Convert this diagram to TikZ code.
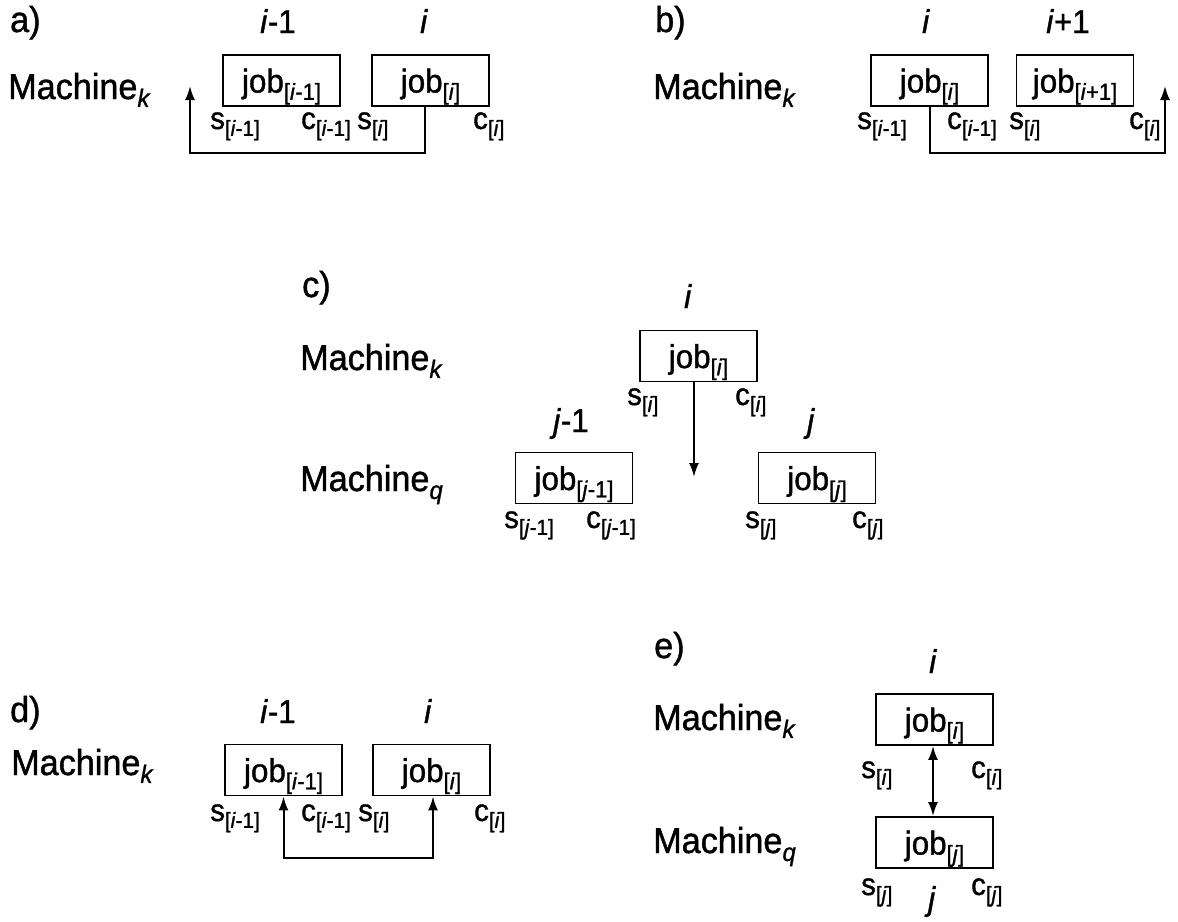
\documentclass[tikz,border=0pt]{standalone}
\usepackage{fontspec}
\setmainfont{Liberation Sans}[FakeStretch=0.95,FakeBold=1.2]
\usetikzlibrary{arrows.meta}
\newcommand{\sbs}[1]{\raisebox{-0.22em}{\scalebox{0.7}{#1}}}
\newcommand{\idi}{\textit{i}}
\newcommand{\idj}{\textit{j}}
\tikzset{
  txt/.style={font=\fontsize{36}{42}\selectfont, inner sep=0pt, anchor=base west},
  lbl/.style={font=\fontsize{31}{38}\selectfont, inner sep=0pt, anchor=base west},
  idx/.style={font=\fontsize{33}{40}\selectfont, inner sep=0pt, anchor=base},
  jobbox/.style={draw, line width=1.9pt, minimum width=117pt, minimum height=51pt,
    inner sep=0pt, text height=30pt, text depth=6pt, font=\fontsize{33}{40}\selectfont},
  arr/.style={line width=2pt, -{Latex[length=14pt,width=10pt]}},
  dbl/.style={line width=2pt, {Latex[length=14pt,width=10pt]}-{Latex[length=14pt,width=10pt]}},
}
\begin{document}
\begin{tikzpicture}[x=1pt,y=-1pt]
\useasboundingbox (0,0) rectangle (1178,921);

% ---------- a)
\node[txt] (alab) at (10,32) {a)};
\node[idx] (aim1) at (278,33) {\idi-1};
\node[idx] (ai) at (424,33) {\idi};
\node[txt] (amk) at (8,99) {Machine\sbs{\textit{k}}};
\node[jobbox] (a1) at (281.5,80.5) {job\sbs{[\idi-1]}};
\node[jobbox] (a2) at (430.5,80.5) {job\sbs{[\idi]}};
\node[lbl] (as1) at (210,129) {s\sbs{[\idi-1]}};
\node[lbl] (ac1) at (301,129) {c\sbs{[\idi-1]}};
\node[lbl] (as2) at (357,129) {s\sbs{[\idi]}};
\node[lbl] (ac2) at (473,129) {c\sbs{[\idi]}};
\coordinate (aturn) at (190,153);
\coordinate (aend) at (190,86);
\draw[arr] ([xshift=-5.5pt]a2.south) |- (aturn) -- (aend);

% ---------- b)
\node[txt] (blab) at (655,32) {b)};
\node[idx] (bi) at (926,33) {\idi};
\node[idx] (bip1) at (1068,33) {\idi+1};
\node[txt] (bmk) at (653,99) {Machine\sbs{\textit{k}}};
\node[jobbox] (b1) at (929.5,80.5) {job\sbs{[\idi]}};
\node[jobbox] (b2) at (1075,80.5) {job\sbs{[\idi+1]}};
\node[lbl] (bs1) at (857,129) {s\sbs{[\idi-1]}};
\node[lbl] (bc1) at (947,129) {c\sbs{[\idi-1]}};
\node[lbl] (bs2) at (1009,129) {s\sbs{[\idi]}};
\node[lbl] (bc2) at (1129,129) {c\sbs{[\idi]}};
\coordinate (bturn) at (1165,153);
\coordinate (bend) at (1165,86);
\draw[arr] (b1.south) |- (bturn) -- (bend);

% ---------- c)
\node[txt] (clab) at (302,297) {c)};
\node[idx] (ci) at (688,308) {\idi};
\node[txt] (cmk) at (300,370) {Machine\sbs{\textit{k}}};
\node[jobbox] (c1) at (698.5,356) {job\sbs{[\idi]}};
\node[lbl] (cs1) at (627,405) {s\sbs{[\idi]}};
\node[lbl] (cc1) at (735,405) {c\sbs{[\idi]}};
\node[idx] (cjm1) at (571,432) {\idj-1};
\node[idx] (cj) at (811,432) {\idj};
\node[txt] (cmq) at (300,491) {Machine\sbs{\textit{q}}};
\node[jobbox] (c2) at (574,478) {job\sbs{[\idj-1]}};
\node[jobbox] (c3) at (817,478) {job\sbs{[\idj]}};
\node[lbl] (cs2) at (504,528) {s\sbs{[\idj-1]}};
\node[lbl] (cc2) at (586,528) {c\sbs{[\idj-1]}};
\node[lbl] (cs3) at (745,528) {s\sbs{[\idj]}};
\node[lbl] (cc3) at (852,528) {c\sbs{[\idj]}};
\coordinate (cend) at (694,477);
\draw[arr] (c1.south -| cend) -- (cend);

% ---------- d)
\node[txt] (dlab) at (10,722) {d)};
\node[idx] (dim1) at (278,723) {\idi-1};
\node[idx] (di) at (428,723) {\idi};
\node[txt] (dmk) at (11,775) {Machine\sbs{\textit{k}}};
\node[jobbox] (d1) at (283.5,770) {job\sbs{[\idi-1]}};
\node[jobbox] (d2) at (431.5,770) {job\sbs{[\idi]}};
\node[lbl] (ds1) at (210,821) {s\sbs{[\idi-1]}};
\node[lbl] (dc1) at (301,821) {c\sbs{[\idi-1]}};
\node[lbl] (ds2) at (358,821) {s\sbs{[\idi]}};
\node[lbl] (dc2) at (474,821) {c\sbs{[\idi]}};
\draw[dbl] (d1.south) -- ++(0,62) -| ([xshift=1.5pt]d2.south);

% ---------- e)
\node[txt] (elab) at (654,658) {e)};
\node[idx] (ei) at (933,673) {\idi};
\node[txt] (emk) at (653,730) {Machine\sbs{\textit{k}}};
\node[jobbox] (e1) at (934.5,719.5) {job\sbs{[\idi]}};
\node[lbl] (es1) at (861,778) {s\sbs{[\idi]}};
\node[lbl] (ec1) at (971,778) {c\sbs{[\idi]}};
\node[txt] (emq) at (653,853) {Machine\sbs{\textit{q}}};
\node[jobbox] (e2) at (934.5,842.5) {job\sbs{[\idj]}};
\node[lbl] (es2) at (861,895) {s\sbs{[\idj]}};
\node[lbl] (ec2) at (971,895) {c\sbs{[\idj]}};
\node[idx] (ej) at (932,910) {\idj};
\draw[dbl] ([xshift=-1.5pt]e1.south) -- ([xshift=-1.5pt]e2.north);
\end{tikzpicture}
\end{document}
